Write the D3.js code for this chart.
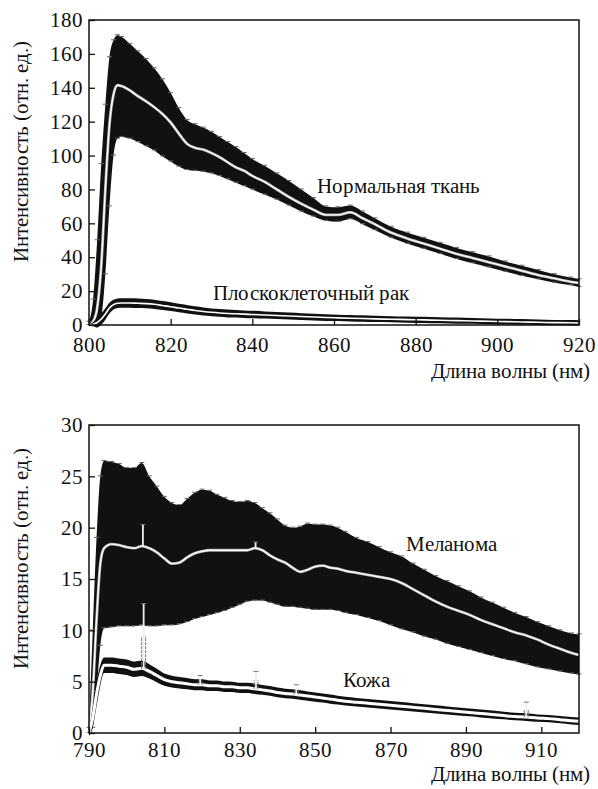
<!DOCTYPE html>
<html>
<head>
<meta charset="utf-8">
<script src="https://cdn.jsdelivr.net/npm/d3@7"></script>
<style>
  @font-face { font-family: "ChartSerif"; src: local("Liberation Serif"), local("LiberationSerif"), local("Liberation Serif Regular"), local("LiberationSerif-Regular"); }
  body { margin: 0; }
  svg text { font-family: "ChartSerif", "Liberation Serif", "Times New Roman" !important; }
</style>
</head>
<body>
<script>
// ---- data ----

// top panel: wavelength grid (nm)
var topNm = [800, 801, 802, 803, 804, 805, 806, 807, 808, 810, 812, 814, 816, 818, 820, 822, 824, 826, 828, 830,
             832, 834, 836, 838, 840, 843, 846, 849, 852, 855, 858, 861, 864, 867, 870, 874, 878, 882, 886, 890,
             894, 898, 902, 906, 910, 914, 918, 920];

// normal tissue: mean, upper and lower edge of the error bars
var normalMean = [0, 2, 10, 35, 80, 118, 136, 141.5, 141, 138.5, 135, 132, 128.5, 124.5, 119.5, 113, 107, 104.5, 103.5, 101.5,
                  99, 96, 93, 91, 88, 84.5, 80, 75.5, 71.5, 68, 65, 65, 66.5, 63, 59.5, 54.5, 51, 48, 45, 42,
                  39.5, 37, 34.5, 32, 29.5, 27.5, 25.5, 24.8];
var normalUpper = [2, 15, 50, 95, 130, 158, 168, 171, 170, 166, 161.5, 157, 151.5, 145, 137, 128, 121, 118.5, 116.5, 114,
                   111, 108, 105, 101.5, 98, 94, 89.5, 85, 80, 75, 70, 69.5, 70.5, 67, 63, 58, 54.5, 51.5, 48.5, 45.5,
                   43, 40.5, 37.5, 35, 32.5, 30, 28, 27];
var normalLower = [0, 0, 0, 5, 30, 70, 100, 110, 111, 110, 108, 105.5, 103, 99.5, 96.5, 93.5, 91.5, 91, 90.5, 89.5,
                   88, 86, 84, 82, 80, 77, 74, 70.5, 67, 64, 61.5, 61, 62.5, 59.5, 56, 51.5, 48, 45, 42, 39,
                   36.5, 34, 31.5, 29, 27, 25, 23.5, 22.5];

// squamous cell carcinoma: mean and half-width
var squamousMean = [0, 0.5, 1.5, 3.5, 6.5, 10, 12, 12.8, 13, 13, 12.8, 12.6, 12.2, 11.5, 10.8, 10, 9.3, 8.6, 8, 7.5,
                    7.1, 6.8, 6.6, 6.4, 6.2, 5.9, 5.6, 5.3, 5, 4.7, 4.4, 4.2, 4, 3.8, 3.6, 3.4, 3.2, 3, 2.8, 2.6,
                    2.4, 2.2, 2, 1.8, 1.6, 1.4, 1.3, 1.2];
var squamousErr = [0.3, 1.2, 3, 3.4, 3.4, 3.2, 2.9, 2.8, 2.8, 2.8, 2.8, 2.7, 2.7, 2.6, 2.6, 2.5, 2.5, 2.4, 2.4, 2.3,
                   2.3, 2.3, 2.2, 2.2, 2.2, 2.1, 2.1, 2.1, 2, 2, 2, 1.9, 1.9, 1.9, 1.9, 1.8, 1.8, 1.8, 1.8, 1.8,
                   1.7, 1.7, 1.7, 1.7, 1.6, 1.6, 1.6, 1.6];

// bottom panel: wavelength grid (nm)
var botNm = [790, 791, 792, 793, 794, 796, 798, 800, 802, 804, 806, 808, 810, 812, 814, 816, 818, 820, 822, 824,
             826, 828, 830, 832, 834, 836, 838, 840, 842, 844, 846, 848, 850, 852, 854, 856, 858, 861, 864, 867,
             870, 873, 876, 879, 882, 885, 888, 891, 894, 897, 900, 903, 906, 909, 912, 915, 918, 920];

var melanomaMean = [0, 4, 11, 16.5, 18, 18.4, 18.3, 18.1, 18, 18.2, 18, 17.6, 17, 16.5, 16.6, 17.1, 17.5, 17.7, 17.8, 17.8,
                    17.8, 17.8, 17.8, 17.8, 18, 17.8, 17.3, 16.9, 16.6, 16.1, 15.7, 15.9, 16.2, 16.3, 16.1, 16, 15.8, 15.6, 15.4, 15.2,
                    15, 14.6, 14, 13.4, 12.8, 12.3, 11.9, 11.5, 11, 10.6, 10.2, 9.8, 9.5, 9.1, 8.6, 8.2, 7.8, 7.6];
var melanomaUpper = [0.5, 10, 19, 25, 26.5, 26.4, 26.2, 25.8, 25.8, 26.3, 25, 24, 23, 22.4, 22.2, 22.8, 23.4, 23.7, 23.6, 23.2,
                     22.9, 22.6, 22.5, 22.6, 22.4, 21.9, 21.4, 20.8, 20.2, 20, 20.1, 20.4, 20.3, 20.3, 20.2, 20, 19.6, 19, 18.6, 18.1,
                     17.6, 17.2, 16.5, 15.9, 15.3, 14.8, 14.3, 13.8, 13.2, 12.7, 12.2, 11.7, 11.3, 10.8, 10.4, 10, 9.7, 9.6];
var melanomaLower = [0, 0.5, 4, 8.5, 10.2, 10.3, 10.4, 10.4, 10.4, 10.5, 10.4, 10.4, 10.5, 10.5, 10.6, 10.8, 11.1, 11.3, 11.5, 11.7,
                     11.9, 12.2, 12.5, 12.8, 12.9, 12.9, 12.7, 12.5, 12.3, 12.3, 12.2, 12.1, 12, 12, 12, 11.9, 11.7, 11.5, 11.2, 10.9,
                     10.5, 10.1, 9.8, 9.4, 9.1, 8.7, 8.4, 8.1, 7.8, 7.5, 7.2, 7, 6.7, 6.4, 6.2, 6, 5.8, 5.7];

var skinMean = [0, 1.5, 3.8, 5.6, 6.6, 6.6, 6.5, 6.4, 6.2, 6.3, 6, 5.6, 5.2, 5, 4.9, 4.8, 4.7, 4.7, 4.6, 4.6,
                4.5, 4.5, 4.4, 4.4, 4.3, 4.2, 4.1, 3.95, 3.85, 3.8, 3.7, 3.6, 3.5, 3.4, 3.3, 3.2, 3.1, 3, 2.9, 2.8,
                2.7, 2.6, 2.5, 2.4, 2.3, 2.2, 2.1, 2, 1.9, 1.8, 1.7, 1.6, 1.55, 1.45, 1.4, 1.3, 1.2, 1.15];
var skinErr = [0.3, 1, 1.2, 1, 0.75, 0.75, 0.75, 0.75, 0.75, 0.75, 0.7, 0.65, 0.6, 0.58, 0.56, 0.55, 0.54, 0.53, 0.52, 0.52,
               0.51, 0.5, 0.5, 0.5, 0.5, 0.48, 0.48, 0.47, 0.47, 0.46, 0.46, 0.45, 0.45, 0.44, 0.44, 0.43, 0.43, 0.42, 0.42, 0.42,
               0.41, 0.41, 0.4, 0.4, 0.4, 0.39, 0.39, 0.38, 0.38, 0.38, 0.37, 0.37, 0.37, 0.36, 0.36, 0.36, 0.36, 0.36];

// isolated spikes (nm, top value)
var melanomaSpikeNm = [804.3, 834.2];
var melanomaSpikeTop = [20.3, 18.6];
var skinSpikeNm = [804.5, 819.5, 834.3, 845, 906];
var skinSpikeTop = [12.6, 5.6, 6.0, 4.7, 3.0];

// axis ticks
var topXTicks = [800, 820, 840, 860, 880, 900, 920];
var topYTicks = [0, 20, 40, 60, 80, 100, 120, 140, 160, 180];
var botXTicks = [790, 810, 830, 850, 870, 890, 910];
var botYTicks = [0, 5, 10, 15, 20, 25, 30];

var xTitle = "Длина волны (нм)";
var yTitle = "Интенсивность (отн. ед.)";

// ---- drawing ----
var W = 598, H = 789;
var svg = d3.select("body").append("svg").attr("width", W).attr("height", H);

function label(sel, s) {
  return sel.attr("font-size", 21).attr("fill", "#111").text(s);
}

function drawPanel(p) {
  var x = d3.scaleLinear().domain(p.xDomain).range([p.left, p.right]);
  var y = d3.scaleLinear().domain(p.yDomain).range([p.bottom, p.top]);
  var g = svg.append("g");

  // wide bands (with error bar caps)
  p.wide.forEach(function(s) {
    var rows = s.nm.map(function(d, i) { return {nm: d, m: s.mean[i], hi: s.upper[i], lo: s.lower[i]}; });
    g.append("path")
      .attr("d", d3.area().x(function(d) { return x(d.nm); })
        .y0(function(d) { return y(d.lo); }).y1(function(d) { return y(d.hi); })
        .curve(d3.curveMonotoneX)(rows))
      .attr("fill", "#111");
    var caps = g.append("g").attr("stroke", "#666").attr("stroke-width", 1);
    rows.forEach(function(d) {
      [d.hi, d.lo].forEach(function(v) {
        caps.append("line").attr("x1", x(d.nm) - 2.5).attr("x2", x(d.nm) + 2.5)
          .attr("y1", y(v) - 0.5).attr("y2", y(v) - 0.5);
      });
    });
    var line = d3.line().x(function(d) { return x(d.nm); }).y(function(d) { return y(d.m); }).curve(d3.curveMonotoneX);
    g.append("path").attr("d", line(rows)).attr("fill", "none").attr("stroke", "#aaa").attr("stroke-width", 2.8);
    g.append("path").attr("d", line(rows)).attr("fill", "none").attr("stroke", "#fff").attr("stroke-width", 1.4);
  });

  // narrow bands: black edges with a white mean line
  p.narrow.forEach(function(s) {
    var rows = s.nm.map(function(d, i) { return {nm: d, m: s.mean[i], e: s.err[i]}; });
    g.append("path")
      .attr("d", d3.area().x(function(d) { return x(d.nm); })
        .y0(function(d) { return y(d.m - d.e); }).y1(function(d) { return y(d.m + d.e); })
        .curve(d3.curveMonotoneX)(rows))
      .attr("fill", "#111");
    var line = d3.line().x(function(d) { return x(d.nm); }).y(function(d) { return y(d.m); }).curve(d3.curveMonotoneX);
    g.append("path").attr("d", line(rows)).attr("fill", "none").attr("stroke", "#fff").attr("stroke-width", s.white);
  });

  // spikes
  p.spikes.forEach(function(s) {
    s.nm.forEach(function(n, i) {
      var base = y(s.base(n)), tip = y(s.top[i]);
      var sg = g.append("g").attr("stroke-width", 1);
      sg.append("line").attr("x1", x(n)).attr("x2", x(n)).attr("y1", base).attr("y2", tip)
        .attr("stroke", "#eee").attr("stroke-width", 1.8);
      sg.append("line").attr("x1", x(n) - 2.5).attr("x2", x(n) + 2.5).attr("y1", tip).attr("y2", tip).attr("stroke", "#777");
      if (s.bars) {
        [x(n) - 2, x(n) + 2].forEach(function(px) {
          sg.append("line").attr("x1", px).attr("x2", px).attr("y1", base).attr("y2", (base + tip) / 2)
            .attr("stroke", "#777").attr("stroke-dasharray", "3,1");
        });
      }
    });
  });

  // frame
  g.append("rect").attr("x", p.left).attr("y", p.top)
    .attr("width", p.right - p.left).attr("height", p.bottom - p.top)
    .attr("fill", "none").attr("stroke", "#111").attr("stroke-width", 1.5);

  // axes with inward ticks
  var ax = g.append("g").attr("transform", "translate(0," + p.bottom + ")")
    .call(d3.axisBottom(x).tickValues(p.xTicks).tickSize(-6).tickPadding(p.xPad).tickFormat(d3.format("d")));
  var ay = g.append("g").attr("transform", "translate(" + p.left + ",0)")
    .call(d3.axisLeft(y).tickValues(p.yTicks).tickSize(-6).tickPadding(6).tickFormat(d3.format("d")));
  [ax, ay].forEach(function(a) {
    a.attr("font-family", null).attr("font-size", null);
    a.select(".domain").remove();
    a.selectAll(".tick line").attr("stroke", "#111").attr("stroke-width", 1.3);
    a.selectAll(".tick text").each(function(d) { label(d3.select(this), d); });
  });

  // titles
  label(g.append("text").attr("x", 590).attr("y", p.xTitleY).attr("text-anchor", "end"), xTitle);
  label(g.append("text").attr("transform", "translate(28," + p.yTitleY + ") rotate(-90)")
    .attr("text-anchor", "middle"), yTitle);

  p.labels.forEach(function(l) {
    label(g.append("text").attr("x", l.x).attr("y", l.y), l.text);
  });
}

drawPanel({
  left: 89, right: 579, top: 20, bottom: 325,
  xDomain: [800, 920], yDomain: [0, 180],
  xTicks: topXTicks, yTicks: topYTicks, xPad: 12,
  xTitleY: 378, yTitleY: 151,
  wide: [{nm: topNm, mean: normalMean, upper: normalUpper, lower: normalLower}],
  narrow: [{nm: topNm, mean: squamousMean, err: squamousErr, white: 1.6}],
  spikes: [],
  labels: [{x: 317, y: 193, text: "Нормальная ткань"}, {x: 213, y: 300, text: "Плоскоклеточный рак"}]
});

drawPanel({
  left: 89, right: 579, top: 425, bottom: 733,
  xDomain: [790, 920], yDomain: [0, 30],
  xTicks: botXTicks, yTicks: botYTicks, xPad: 9,
  xTitleY: 781, yTitleY: 558,
  wide: [{nm: botNm, mean: melanomaMean, upper: melanomaUpper, lower: melanomaLower}],
  narrow: [{nm: botNm, mean: skinMean, err: skinErr, white: 3}],
  spikes: [
    {nm: melanomaSpikeNm, top: melanomaSpikeTop, bars: false,
     base: function(n) { return d3.scaleLinear().domain(botNm).range(melanomaMean)(n); }},
    {nm: skinSpikeNm, top: skinSpikeTop, bars: true,
     base: function(n) { return d3.scaleLinear().domain(botNm).range(skinMean)(n); }}
  ],
  labels: [{x: 406, y: 551, text: "Меланома"}, {x: 343, y: 687, text: "Кожа"}]
});
</script>
</body>
</html>
